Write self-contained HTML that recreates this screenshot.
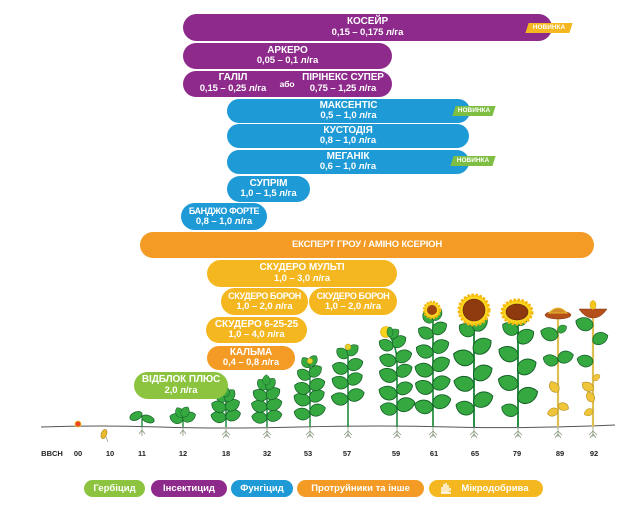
<!DOCTYPE html>
<html><head><meta charset="utf-8">
<style>
html,body{margin:0;padding:0;background:#fff;}
#c{position:relative;width:632px;height:516px;overflow:hidden;background:#fff;font-family:"Liberation Sans",sans-serif;}
.b{position:absolute;border-radius:14px;color:#fff;font-weight:bold;font-size:9.5px;line-height:10.5px;display:flex;flex-direction:column;justify-content:center;align-items:center;text-align:center;white-space:nowrap;letter-spacing:-0.1px}
.p{background:#8E2A8C}.bl{background:#1E9AD6}.o{background:#F39B25}.y{background:#F5B71F}.g{background:#8CC43F}
.t{font-size:10px}
.nb{position:absolute;height:10px;color:#fff;font-weight:bold;font-size:6.5px;line-height:10px;text-align:center;z-index:5}
.nb .bg{position:absolute;left:0;top:0;right:0;bottom:0;transform:skewX(-18deg)}
.ny .bg{background:#F5B71F}.ng .bg{background:#7DBE43}
.nb span{position:relative}
.lg{position:absolute;top:480px;height:17px;border-radius:9px;color:#fff;font-weight:bold;font-size:9.5px;line-height:17px;text-align:center;white-space:nowrap}
svg{position:absolute;left:0;top:0}
</style></head><body>
<div id="c">
<svg width="632" height="516" viewBox="0 0 632 516">
<defs>
<path id="lf" d="M0,0 C1,-9 13,-10 17,-1 C13,7 2,7 0,0Z" fill="#36A840" stroke="#135F27" stroke-width="0.8"/>
<path id="yl" d="M0,0 C2,-7 11,-8 14,-1 C10,5 3,6 0,0Z" fill="#EFC53A" stroke="#B08A1E" stroke-width="0.7"/>
</defs>
<!-- ground -->
<path d="M41,427 Q100,425 160,427 T300,427 T450,427 T615,425" stroke="#555" stroke-width="1" fill="none"/>
<!-- roots -->
<g stroke="#8A9A80" stroke-width="0.8" fill="none">
<path d="M142,427 v9 m0,-6 l-3,4 m3,-4 l3,4"/>
<path d="M183,427 v9 m0,-6 l-3,4 m3,-4 l3,4"/>
<path d="M226,427 v10 m0,-6 l-4,4 m4,-4 l4,4 m-4,-1 l-3,4 m3,-4 l3,4"/>
<path d="M267,427 v10 m0,-6 l-4,4 m4,-4 l4,4 m-4,-1 l-3,4 m3,-4 l3,4"/>
<path d="M310,427 v10 m0,-6 l-4,4 m4,-4 l4,4 m-4,-1 l-3,4 m3,-4 l3,4"/>
<path d="M348,427 v10 m0,-6 l-4,4 m4,-4 l4,4 m-4,-1 l-3,4 m3,-4 l3,4"/>
<path d="M397,427 v10 m0,-6 l-4,4 m4,-4 l4,4 m-4,-1 l-3,4 m3,-4 l3,4"/>
<path d="M433,427 v10 m0,-6 l-4,4 m4,-4 l4,4 m-4,-1 l-3,4 m3,-4 l3,4"/>
<path d="M474,427 v10 m0,-6 l-4,4 m4,-4 l4,4 m-4,-1 l-3,4 m3,-4 l3,4"/>
<path d="M518,427 v10 m0,-6 l-4,4 m4,-4 l4,4 m-4,-1 l-3,4 m3,-4 l3,4"/>
<path d="M558,427 v10 m0,-6 l-4,4 m4,-4 l4,4 m-4,-1 l-3,4 m3,-4 l3,4"/>
<path d="M593,427 v10 m0,-6 l-4,4 m4,-4 l4,4 m-4,-1 l-3,4 m3,-4 l3,4"/>
</g>
<!-- seeds -->
<circle cx="78" cy="424" r="3" fill="#E8472B" stroke="#F5C518" stroke-width="0.8"/>
<ellipse cx="104" cy="434" rx="2.7" ry="4.8" transform="rotate(20 104 434)" fill="#E9B930" stroke="#A97E16" stroke-width="0.6"/>
<path d="M106,437 l2,5" stroke="#8A9A80" stroke-width="0.7"/>
<!-- 11 -->
<line x1="142" y1="427" x2="142" y2="419" stroke="#1F8B3B" stroke-width="1.4"/>
<ellipse cx="136" cy="416" rx="6.5" ry="4" transform="rotate(-25 136 416)" fill="#36A840" stroke="#135F27" stroke-width="0.7"/>
<ellipse cx="148" cy="419" rx="6.5" ry="3.5" transform="rotate(20 148 419)" fill="#36A840" stroke="#135F27" stroke-width="0.7"/>
<!-- 12 -->
<line x1="183" y1="427" x2="183" y2="416" stroke="#1F8B3B" stroke-width="1.4"/>
<use href="#lf" transform="translate(183,420) rotate(200) scale(0.8)"/>
<use href="#lf" transform="translate(183,420) rotate(-20) scale(0.8)"/>
<use href="#lf" transform="translate(183,417) rotate(240) scale(0.65)"/>
<use href="#lf" transform="translate(183,417) rotate(-60) scale(0.65)"/>
<!-- 18 -->
<line x1="226" y1="427" x2="226" y2="395" stroke="#1F8B3B" stroke-width="1.5"/>
<use href="#lf" transform="translate(226,418) rotate(195) scale(0.9)"/>
<use href="#lf" transform="translate(226,418) rotate(-15) scale(0.9)"/>
<use href="#lf" transform="translate(226,409) rotate(205) scale(0.9)"/>
<use href="#lf" transform="translate(226,409) rotate(-25) scale(0.9)"/>
<use href="#lf" transform="translate(226,401) rotate(230) scale(0.8)"/>
<use href="#lf" transform="translate(226,401) rotate(-50) scale(0.8)"/>
<use href="#lf" transform="translate(226,397) rotate(-90) scale(0.65)"/>
<!-- 32 -->
<line x1="267" y1="427" x2="267" y2="382" stroke="#1F8B3B" stroke-width="1.5"/>
<use href="#lf" transform="translate(267,418) rotate(190) scale(0.9)"/>
<use href="#lf" transform="translate(267,418) rotate(-10) scale(0.9)"/>
<use href="#lf" transform="translate(267,408) rotate(200) scale(0.95)"/>
<use href="#lf" transform="translate(267,408) rotate(-20) scale(0.95)"/>
<use href="#lf" transform="translate(267,398) rotate(210) scale(0.9)"/>
<use href="#lf" transform="translate(267,398) rotate(-30) scale(0.9)"/>
<use href="#lf" transform="translate(267,389) rotate(230) scale(0.75)"/>
<use href="#lf" transform="translate(267,389) rotate(-50) scale(0.75)"/>
<use href="#lf" transform="translate(267,385) rotate(-90) scale(0.6)"/>
<!-- 53 -->
<line x1="310" y1="427" x2="310" y2="362" stroke="#1F8B3B" stroke-width="1.5"/>
<use href="#lf" transform="translate(310,415) rotate(195) scale(0.95)"/>
<use href="#lf" transform="translate(310,413) rotate(-15) scale(0.95)"/>
<use href="#lf" transform="translate(310,402) rotate(205) scale(1)"/>
<use href="#lf" transform="translate(310,400) rotate(-25) scale(0.95)"/>
<use href="#lf" transform="translate(310,390) rotate(200) scale(0.95)"/>
<use href="#lf" transform="translate(310,388) rotate(-20) scale(0.95)"/>
<use href="#lf" transform="translate(310,378) rotate(215) scale(0.85)"/>
<use href="#lf" transform="translate(310,376) rotate(-35) scale(0.85)"/>
<use href="#lf" transform="translate(310,367) rotate(235) scale(0.7)"/>
<use href="#lf" transform="translate(310,366) rotate(-55) scale(0.7)"/>
<circle cx="310" cy="361" r="2.8" fill="#E8D22A" stroke="#A58A10" stroke-width="0.5"/>
<!-- 57 -->
<line x1="348" y1="427" x2="348" y2="347" stroke="#1F8B3B" stroke-width="1.6"/>
<use href="#lf" transform="translate(348,400) rotate(195) scale(1)"/>
<use href="#lf" transform="translate(348,398) rotate(-15) scale(1)"/>
<use href="#lf" transform="translate(348,385) rotate(205) scale(1)"/>
<use href="#lf" transform="translate(348,383) rotate(-25) scale(0.95)"/>
<use href="#lf" transform="translate(348,370) rotate(200) scale(0.95)"/>
<use href="#lf" transform="translate(348,368) rotate(-20) scale(0.95)"/>
<use href="#lf" transform="translate(348,357) rotate(220) scale(0.8)"/>
<use href="#lf" transform="translate(348,355) rotate(-40) scale(0.8)"/>
<circle cx="348" cy="347" r="3" fill="#E8D22A" stroke="#A58A10" stroke-width="0.5"/>
<!-- 59 -->
<path d="M397,427 L397,360 Q396,345 389,335" stroke="#1F8B3B" stroke-width="1.6" fill="none"/>
<use href="#lf" transform="translate(397,410) rotate(195) scale(1)"/>
<use href="#lf" transform="translate(397,408) rotate(-15) scale(1.1)"/>
<use href="#lf" transform="translate(397,395) rotate(200) scale(1.1)"/>
<use href="#lf" transform="translate(397,392) rotate(-20) scale(1)"/>
<use href="#lf" transform="translate(397,378) rotate(205) scale(1.1)"/>
<use href="#lf" transform="translate(397,375) rotate(-25) scale(1)"/>
<use href="#lf" transform="translate(396,362) rotate(200) scale(1)"/>
<use href="#lf" transform="translate(396,360) rotate(-20) scale(1)"/>
<use href="#lf" transform="translate(393,348) rotate(210) scale(0.9)"/>
<use href="#lf" transform="translate(393,346) rotate(-30) scale(0.9)"/>
<use href="#lf" transform="translate(390,338) rotate(-40) scale(0.7)"/>
<circle cx="386" cy="332" r="5.5" fill="#F8D31C" stroke="#E0A010" stroke-width="0.6"/>
<ellipse cx="390" cy="332" rx="3" ry="5" fill="#36A840" stroke="#135F27" stroke-width="0.5"/>
<!-- 61 -->
<line x1="433" y1="427" x2="433" y2="315" stroke="#1F8B3B" stroke-width="1.7"/>
<use href="#lf" transform="translate(433,408) rotate(195) scale(1.1)"/>
<use href="#lf" transform="translate(433,405) rotate(-15) scale(1.1)"/>
<use href="#lf" transform="translate(433,390) rotate(205) scale(1.1)"/>
<use href="#lf" transform="translate(433,387) rotate(-20) scale(1.1)"/>
<use href="#lf" transform="translate(433,372) rotate(200) scale(1.1)"/>
<use href="#lf" transform="translate(433,369) rotate(-25) scale(1.1)"/>
<use href="#lf" transform="translate(433,354) rotate(205) scale(1.05)"/>
<use href="#lf" transform="translate(433,351) rotate(-25) scale(1.05)"/>
<use href="#lf" transform="translate(433,336) rotate(210) scale(0.95)"/>
<use href="#lf" transform="translate(433,333) rotate(-30) scale(0.95)"/>
<use href="#lf" transform="translate(433,322) rotate(230) scale(0.8)"/>
<use href="#lf" transform="translate(433,320) rotate(-50) scale(0.8)"/>
<circle cx="432" cy="310" r="8" fill="#FBD51E" stroke="#F6B80E" stroke-width="2.5" stroke-dasharray="2 1.2"/>
<circle cx="432" cy="310" r="5" fill="#9C4410"/>
<!-- 65 -->
<line x1="474" y1="427" x2="474" y2="320" stroke="#1F8B3B" stroke-width="1.9"/>
<use href="#lf" transform="translate(474,410) rotate(200) scale(1.1)"/>
<use href="#lf" transform="translate(474,404) rotate(-20) scale(1.2)"/>
<use href="#lf" transform="translate(474,385) rotate(195) scale(1.2)"/>
<use href="#lf" transform="translate(474,378) rotate(-25) scale(1.2)"/>
<use href="#lf" transform="translate(474,360) rotate(200) scale(1.25)"/>
<use href="#lf" transform="translate(474,352) rotate(-30) scale(1.2)"/>
<use href="#lf" transform="translate(474,334) rotate(215) scale(1)"/>
<use href="#lf" transform="translate(474,330) rotate(-40) scale(1.05)"/>
<circle cx="474" cy="310" r="15" fill="#FBD51E" stroke="#F6B80E" stroke-width="3" stroke-dasharray="2.5 1.5"/>
<circle cx="474" cy="310" r="11" fill="#8E3A0E" stroke="#5E2408" stroke-width="0.6"/>
<!-- 79 -->
<line x1="518" y1="427" x2="518" y2="322" stroke="#1F8B3B" stroke-width="1.9"/>
<use href="#lf" transform="translate(518,412) rotate(200) scale(1)"/>
<use href="#lf" transform="translate(518,400) rotate(-20) scale(1.25)"/>
<use href="#lf" transform="translate(518,385) rotate(200) scale(1.2)"/>
<use href="#lf" transform="translate(518,372) rotate(-25) scale(1.2)"/>
<use href="#lf" transform="translate(518,357) rotate(205) scale(1.2)"/>
<use href="#lf" transform="translate(518,342) rotate(-30) scale(1.1)"/>
<use href="#lf" transform="translate(518,332) rotate(210) scale(1)"/>
<use href="#lf" transform="translate(518,325) rotate(-50) scale(0.9)"/>
<ellipse cx="517" cy="312" rx="15" ry="12" fill="#FBD51E" stroke="#F6B80E" stroke-width="3" stroke-dasharray="2.5 1.5"/>
<ellipse cx="517" cy="312" rx="11" ry="8" fill="#8E3A0E" stroke="#5E2408" stroke-width="0.6"/>
<!-- 89 -->
<line x1="558" y1="427" x2="558" y2="316" stroke="#E6C85C" stroke-width="2.2"/>
<line x1="558" y1="427" x2="558" y2="316" stroke="#C9A53A" stroke-width="0.5"/>
<use href="#lf" transform="translate(558,336) rotate(200) scale(1.05)"/>
<use href="#lf" transform="translate(558,332) rotate(-30) scale(0.6)"/>
<use href="#lf" transform="translate(558,362) rotate(200) scale(0.9)"/>
<use href="#lf" transform="translate(558,360) rotate(-15) scale(0.95)"/>
<use href="#yl" transform="translate(558,392) rotate(240) scale(0.9)"/>
<use href="#yl" transform="translate(558,410) rotate(165) scale(0.8)"/>
<use href="#yl" transform="translate(558,405) rotate(25) scale(0.8)"/>
<ellipse cx="558" cy="315" rx="13" ry="4" fill="#B5501A" stroke="#7A3010" stroke-width="0.5"/>
<path d="M549,313 Q558,303 567,313 Z" fill="#D08A2A" stroke="#E8B82A" stroke-width="1"/>
<!-- 92 -->
<line x1="593" y1="427" x2="593" y2="316" stroke="#E6C85C" stroke-width="2.2"/>
<line x1="593" y1="427" x2="593" y2="316" stroke="#C9A53A" stroke-width="0.5"/>
<use href="#lf" transform="translate(593,326) rotate(200) scale(1.05)"/>
<use href="#lf" transform="translate(593,342) rotate(-20) scale(0.95)"/>
<use href="#lf" transform="translate(593,362) rotate(195) scale(0.95)"/>
<use href="#yl" transform="translate(593,380) rotate(-30) scale(0.6)"/>
<use href="#yl" transform="translate(593,390) rotate(220) scale(0.9)"/>
<use href="#yl" transform="translate(593,402) rotate(250) scale(0.8)"/>
<use href="#yl" transform="translate(593,410) rotate(160) scale(0.7)"/>
<path d="M579,309 L607,309 Q601,318 593,318 Q585,318 579,309 Z" fill="#B5501A" stroke="#7A3010" stroke-width="0.5"/>
<ellipse cx="593" cy="305" rx="3" ry="4.5" fill="#F5C518" stroke="#C89810" stroke-width="0.5"/>
<!-- axis labels -->
<g font-family="Liberation Sans, sans-serif" font-weight="bold" font-size="7.5" fill="#222" text-anchor="middle">
<text x="52" y="456">BBCH</text>
<text x="78" y="456">00</text>
<text x="110" y="456">10</text>
<text x="142" y="456">11</text>
<text x="183" y="456">12</text>
<text x="226" y="456">18</text>
<text x="267" y="456">32</text>
<text x="308" y="456">53</text>
<text x="347" y="456">57</text>
<text x="396" y="456">59</text>
<text x="434" y="456">61</text>
<text x="475" y="456">65</text>
<text x="517" y="456">79</text>
<text x="560" y="456">89</text>
<text x="594" y="456">92</text>
</g>
</svg>

<!-- bars -->
<div class="b p" style="left:183px;top:14px;width:369px;height:27px"><div class="t">КОСЕЙР</div><div>0,15 – 0,175 л/га</div></div>
<div class="nb ny" style="left:527px;top:23px;width:44px"><div class="bg"></div><span>НОВИНКА</span></div>
<div class="b p" style="left:183px;top:43px;width:209px;height:26px"><div class="t">АРКЕРО</div><div>0,05 – 0,1 л/га</div></div>
<div class="b p" style="left:183px;top:71px;width:209px;height:26px;display:block">
 <div style="position:absolute;left:13px;top:2px;width:74px;text-align:center"><div class="t">ГАЛІЛ</div><div>0,15 – 0,25 л/га</div></div>
 <div style="position:absolute;left:92px;top:8px;width:24px;text-align:center;font-size:8.5px">або</div>
 <div style="position:absolute;left:118px;top:2px;width:84px;text-align:center"><div class="t">ПІРІНЕКС СУПЕР</div><div>0,75 – 1,25 л/га</div></div>
</div>
<div class="b bl" style="left:227px;top:99px;width:243px;height:24px"><div class="t">МАКСЕНТІС</div><div>0,5 – 1,0 л/га</div></div>
<div class="nb ng" style="left:454px;top:106px;width:40px"><div class="bg"></div><span>НОВИНКА</span></div>
<div class="b bl" style="left:227px;top:124px;width:242px;height:24px"><div class="t">КУСТОДІЯ</div><div>0,8 – 1,0 л/га</div></div>
<div class="b bl" style="left:227px;top:150px;width:242px;height:24px"><div class="t">МЕГАНІК</div><div>0,6 – 1,0 л/га</div></div>
<div class="nb ng" style="left:452px;top:156px;width:42px"><div class="bg"></div><span>НОВИНКА</span></div>
<div class="b bl" style="left:227px;top:176px;width:83px;height:26px"><div class="t">СУПРІМ</div><div>1,0 – 1,5 л/га</div></div>
<div class="b bl" style="left:181px;top:203px;width:86px;height:27px"><div class="t" style="font-size:9px;letter-spacing:-0.4px">БАНДЖО ФОРТЕ</div><div>0,8 – 1,0 л/га</div></div>
<div class="b o" style="left:140px;top:232px;width:454px;height:26px"><div style="font-size:9.5px;letter-spacing:-0.2px">ЕКСПЕРТ ГРОУ / АМІНО КСЕРІОН</div></div>
<div class="b y" style="left:207px;top:260px;width:190px;height:27px"><div class="t">СКУДЕРО МУЛЬТІ</div><div>1,0 – 3,0 л/га</div></div>
<div class="b y" style="left:221px;top:288px;width:87px;height:27px"><div class="t" style="font-size:9px;letter-spacing:-0.4px">СКУДЕРО БОРОН</div><div>1,0 – 2,0 л/га</div></div>
<div class="b y" style="left:309px;top:288px;width:88px;height:27px"><div class="t" style="font-size:9px;letter-spacing:-0.4px">СКУДЕРО БОРОН</div><div>1,0 – 2,0 л/га</div></div>
<div class="b y" style="left:206px;top:317px;width:101px;height:26px"><div class="t">СКУДЕРО 6-25-25</div><div>1,0 – 4,0 л/га</div></div>
<div class="b o" style="left:207px;top:346px;width:88px;height:24px"><div class="t">КАЛЬМА</div><div>0,4 – 0,8 л/га</div></div>
<div class="b g" style="left:134px;top:372px;width:94px;height:27px"><div class="t">ВІДБЛОК ПЛЮС</div><div>2,0 л/га</div></div>

<!-- legend -->
<div class="lg" style="left:84px;width:61px;background:#8CC43F">Гербіцид</div>
<div class="lg" style="left:151px;width:76px;background:#8E2A8C">Інсектицид</div>
<div class="lg" style="left:231px;width:62px;background:#1E9AD6">Фунгіцид</div>
<div class="lg" style="left:297px;width:127px;background:#F39B25">Протруйники та інше</div>
<div class="lg" style="left:429px;width:114px;background:#F5B71F"><svg width="12" height="12" viewBox="0 0 12 12" style="position:absolute;left:11px;top:2px"><path d="M2,11 L2,5 M4,11 L4,2 M6,11 L6,1 M8,11 L8,3 M10,9 L10,6 M1,11 L11,11" stroke="#fff" stroke-width="1.4" fill="none"/></svg><span style="padding-left:18px">Мікродобрива</span></div>
</div>
</body></html>
